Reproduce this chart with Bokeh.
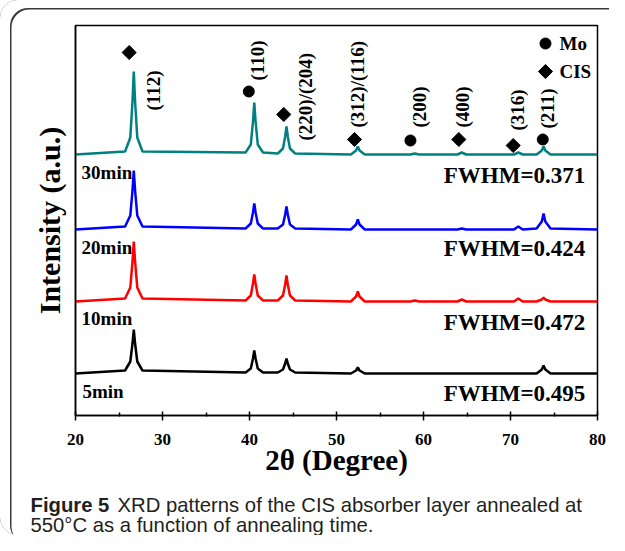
import numpy as np
from bokeh.plotting import figure
from bokeh.models import Range1d, FixedTicker, Label, ColumnDataSource
from bokeh.core.properties import value
from bokeh.embed import file_html
from bokeh.resources import INLINE

# ---------------- data ----------------
two_theta = [20.0,
             25.7, 26.3, 26.55, 26.7, 26.85, 27.1, 27.7,
             39.55, 40.15, 40.4, 40.55, 40.7, 40.95, 41.55,
             43.25, 43.85, 44.1, 44.25, 44.4, 44.65, 45.25,
             51.65, 52.25, 52.45, 52.65, 53.25,
             58.5, 59.0, 59.5,
             63.9, 64.4, 64.9,
             70.4, 70.9, 71.4,
             73.0, 73.6, 73.8, 74.0, 74.6,
             80.0]

i_30min = [0,
           3, 17, 53, 83, 53, 17, 3,
           2, 10, 33, 52, 33, 10, 2,
           1, 6, 18, 28, 18, 6, 1,
           0, 4, 8, 4, 0,
           0, 1, 0,
           0, 2, 0,
           0, 2, 0,
           0, 4, 8, 4, 0,
           0]
i_20min = [0,
           3, 14, 39, 59, 39, 14, 3,
           1, 6, 17, 26, 17, 6, 1,
           1, 5, 15, 23, 15, 5, 1,
           0, 5, 10, 5, 0,
           0, 0, 0,
           0, 1, 0,
           0, 3, 0,
           1, 8, 16, 8, 1,
           0]
i_10min = [0,
           3, 14, 40, 60, 40, 14, 3,
           1, 6, 18, 27, 18, 6, 1,
           1, 6, 17, 26, 17, 6, 1,
           0, 5, 10, 5, 0,
           0, 1, 0,
           0, 2, 0,
           0, 3, 0,
           0, 2, 4, 2, 0,
           0]
i_5min = [0,
          3, 12, 30, 44, 30, 12, 3,
          1, 5, 15, 23, 15, 5, 1,
          1, 4, 10, 15, 10, 4, 1,
          0, 3, 6, 3, 0,
          0, 0, 0,
          0, 0, 0,
          0, 0, 0,
          0, 4, 8, 4, 0,
          0]

series_names = ["5min", "10min", "20min", "30min"]
series_values = [i_5min, i_10min, i_20min, i_30min]
series_offsets = [42, 114, 186, 261]
series_colors = ["#000000", "#ff0000", "#0000ff", "#008080"]
fwhm_labels = ["FWHM=0.495", "FWHM=0.472", "FWHM=0.424", "FWHM=0.371"]

peak_labels = ["(112)", "(110)", "(220)/(204)", "(312)/(116)", "(200)", "(400)", "(316)", "(211)"]
peak_phase = ["CIS", "Mo", "CIS", "CIS", "Mo", "CIS", "CIS", "Mo"]
marker_x = [26.17, 39.92, 43.94, 52.07, 58.5, 64.06, 70.31, 73.71]
marker_y = [363, 324, 301, 276, 275, 276, 270, 276]
label_x = [28.97, 40.89, 46.44, 52.38, 59.54, 64.48, 70.77, 74.22]
label_y = [305, 335, 275, 288, 288, 288, 285, 287]

x_ticks = [20, 30, 40, 50, 60, 70, 80]
x_minor = [25, 35, 45, 55, 65, 75]

caption_bold = "Figure 5"
caption_line1 = "XRD patterns of the CIS absorber layer annealed at"
caption_line2 = "550°C as a function of annealing time."

SERIF = "Liberation Serif"

p = figure(width=609, height=535, x_range=Range1d(20, 80), y_range=Range1d(0, 390),
           output_backend="svg", toolbar_location=None,
           min_border_left=75, min_border_right=12, min_border_top=25, min_border_bottom=120)
p.grid.visible = False
p.outline_line_color = "black"
p.outline_line_width = 1.5
p.background_fill_color = "white"
p.border_fill_color = None
p.styles = {
    "background-color": "white",
    "border-radius": "18px 0 0 18px",
    "box-shadow": "inset 10px 8px 0 0 white, inset 11.5px 9.5px 0 0 #3a3a3a",
}

# x axis
p.xaxis.ticker = FixedTicker(ticks=x_ticks, minor_ticks=x_minor)
p.xaxis.axis_line_width = 1.5
p.xaxis.major_tick_in = 4
p.xaxis.major_tick_out = 5
p.xaxis.minor_tick_in = 3
p.xaxis.minor_tick_out = 1
p.xaxis.major_tick_line_width = 1.5
p.xaxis.minor_tick_line_width = 1.5
p.xaxis.major_label_text_font = SERIF
p.xaxis.major_label_text_font_style = "bold"
p.xaxis.major_label_text_font_size = "17px"
p.xaxis.major_label_text_color = "black"
p.xaxis.major_label_standoff = 13
p.xaxis.axis_label = "2θ (Degree)"
p.xaxis.axis_label_text_font = SERIF
p.xaxis.axis_label_text_font_style = "bold"
p.xaxis.axis_label_text_font_size = "29px"
p.xaxis.axis_label_text_color = "black"
p.xaxis.axis_label_standoff = -4

# y axis
p.yaxis.ticker = FixedTicker(ticks=[])
p.yaxis.axis_line_width = 1.5
p.yaxis.major_tick_line_color = None
p.yaxis.minor_tick_line_color = None
p.yaxis.axis_label = "Intensity (a.u.)"
p.yaxis.axis_label_text_font = SERIF
p.yaxis.axis_label_text_font_style = "bold"
p.yaxis.axis_label_text_font_size = "30px"
p.yaxis.axis_label_text_color = "black"
p.yaxis.axis_label_standoff = 10

# time labels (behind curves)
time_src = ColumnDataSource(dict(x=[20.8, 20.7, 20.7, 20.7], y=[24, 97, 168, 243], t=series_names))
p.text(x="x", y="y", text="t", source=time_src, text_font=value(SERIF), text_font_style="bold",
       text_font_size=value("19px"), text_baseline="middle", text_align="left", text_color="black")

# curves
for vals, off, col in zip(series_values, series_offsets, series_colors):
    ys = [off + v for v in vals]
    p.line(two_theta, ys, line_color=col, line_width=2.5)

# FWHM labels
fw_src = ColumnDataSource(dict(x=[78.6] * 4, y=[22, 93, 167, 240], t=fwhm_labels))
p.text(x="x", y="y", text="t", source=fw_src, text_font=value(SERIF), text_font_style="bold",
       text_font_size=value("23px"), text_baseline="middle", text_align="right", text_color="black")

# peak markers
cis_x = [x for x, ph in zip(marker_x, peak_phase) if ph == "CIS"]
cis_y = [y for y, ph in zip(marker_y, peak_phase) if ph == "CIS"]
mo_x = [x for x, ph in zip(marker_x, peak_phase) if ph == "Mo"]
mo_y = [y for y, ph in zip(marker_y, peak_phase) if ph == "Mo"]
p.scatter(cis_x, cis_y, marker="square", angle=np.pi / 4, size=10, color="black")
p.scatter(mo_x, mo_y, marker="circle", size=11, color="black")

# peak labels (rotated)
pk_src = ColumnDataSource(dict(x=label_x, y=label_y, t=peak_labels))
p.text(x="x", y="y", text="t", source=pk_src, angle=np.pi / 2, text_font=value(SERIF),
       text_font_style="bold", text_font_size=value("19px"), text_baseline="middle",
       text_align="left", text_color="black")

# legend (symbols)
p.scatter([74.02], [372], marker="circle", size=11, color="black")
p.scatter([74.02], [344], marker="square", angle=np.pi / 4, size=10, color="black")
leg_src = ColumnDataSource(dict(x=[75.63, 75.63], y=[372, 344], t=["Mo", "CIS"]))
p.text(x="x", y="y", text="t", source=leg_src, text_font=value(SERIF), text_font_style="bold",
       text_font_size=value("19px"), text_baseline="middle", text_align="left", text_color="black")

# caption (in side panels so it is not clipped to the frame; canvas coordinates)
cap_kw = dict(x_units="canvas", y_units="canvas", text_font="Liberation Sans",
              text_font_size="20.3px", text_color="#231f20", text_baseline="alphabetic",
              text_align="left")
p.add_layout(Label(x=117, y=504, text=caption_line1, **cap_kw), "below")
p.add_layout(Label(x=30, y=524, text=caption_line2, **cap_kw), "below")
p.add_layout(Label(x=30, y=504, text=caption_bold, text_font_style="bold", **cap_kw), "above")

open("out.html", "w").write(file_html(p, INLINE))
